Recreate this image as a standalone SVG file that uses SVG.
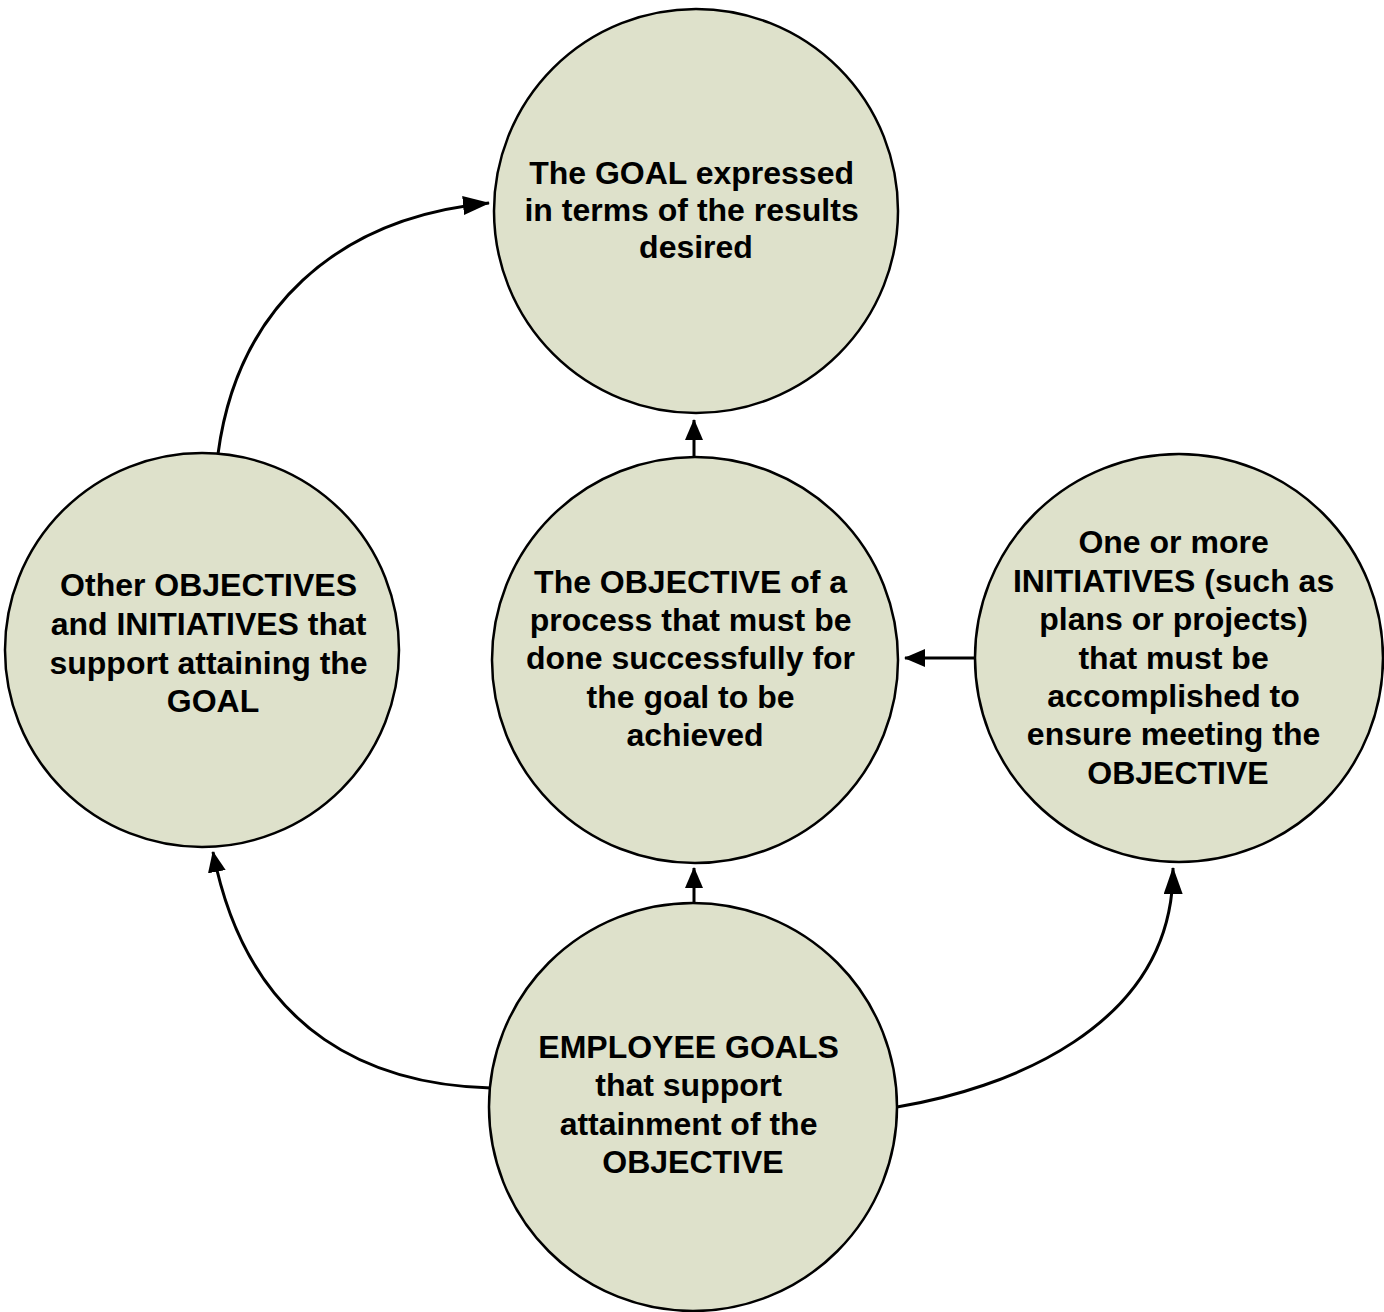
<svg xmlns="http://www.w3.org/2000/svg" width="1384" height="1312" viewBox="0 0 1384 1312">
  <defs>
    <style>
      .node { fill: #dee1cb; stroke: #000; stroke-width: 2.5; }
      .label { font-family: "Liberation Sans", Arial, sans-serif; font-weight: bold; font-size: 32px; fill: #000; text-anchor: middle; }
      .link { fill: none; stroke: #000; stroke-width: 3; }
    </style>
    <marker id="arrow" markerUnits="userSpaceOnUse" markerWidth="22" markerHeight="18" refX="20" refY="9" orient="auto">
      <path d="M0,0 L21,9 L0,18 z" fill="#000"/>
    </marker>
    <marker id="arrow-long" markerUnits="userSpaceOnUse" markerWidth="28" markerHeight="20" refX="26" refY="9.5" orient="auto">
      <path d="M0,0 L27,9.5 L0,19 z" fill="#000"/>
    </marker>
  </defs>

  <rect width="1384" height="1312" fill="#fff"/>

  <!-- connectors -->
  <g id="connectors">
    <line class="link" x1="694" y1="457" x2="694" y2="420" marker-end="url(#arrow)"/>
    <line class="link" x1="975" y1="658" x2="905" y2="658" marker-end="url(#arrow)"/>
    <line class="link" x1="694" y1="903" x2="694" y2="868" marker-end="url(#arrow)"/>
    <path class="link" d="M218,454 C237,310 335,218 489,203" marker-end="url(#arrow-long)"/>
    <path class="link" d="M491,1088 C380,1085 250,1040 213,852" marker-end="url(#arrow)"/>
    <path class="link" d="M897,1107 C1000,1090 1174,1030 1173,868" marker-end="url(#arrow-long)"/>
  </g>

  <!-- the goal -->
  <g id="goal">
    <circle class="node" cx="696" cy="211" r="202"/>
    <text class="label">
      <tspan x="696" y="184">The GOAL expressed</tspan>
      <tspan x="696" y="221">in terms of the results</tspan>
      <tspan x="696" y="258">desired</tspan>
    </text>
  </g>

  <!-- the objective -->
  <g id="objective">
    <circle class="node" cx="695" cy="660" r="203"/>
    <text class="label">
      <tspan x="695" y="593">The OBJECTIVE of a</tspan>
      <tspan x="695" y="631">process that must be</tspan>
      <tspan x="695" y="669">done successfully for</tspan>
      <tspan x="695" y="708">the goal to be</tspan>
      <tspan x="695" y="746">achieved</tspan>
    </text>
  </g>

  <!-- other objectives and initiatives -->
  <g id="other-objectives">
    <circle class="node" cx="202" cy="650" r="197"/>
    <text class="label">
      <tspan x="213" y="596">Other OBJECTIVES</tspan>
      <tspan x="213" y="635">and INITIATIVES that</tspan>
      <tspan x="213" y="674">support attaining the</tspan>
      <tspan x="213" y="712">GOAL</tspan>
    </text>
  </g>

  <!-- initiatives -->
  <g id="initiatives">
    <circle class="node" cx="1179" cy="658" r="204"/>
    <text class="label">
      <tspan x="1178" y="553">One or more</tspan>
      <tspan x="1178" y="592">INITIATIVES (such as</tspan>
      <tspan x="1178" y="630">plans or projects)</tspan>
      <tspan x="1178" y="669">that must be</tspan>
      <tspan x="1178" y="707">accomplished to</tspan>
      <tspan x="1178" y="745">ensure meeting the</tspan>
      <tspan x="1178" y="784">OBJECTIVE</tspan>
    </text>
  </g>

  <!-- employee goals -->
  <g id="employee-goals">
    <circle class="node" cx="693" cy="1107" r="204"/>
    <text class="label">
      <tspan x="693" y="1058">EMPLOYEE GOALS</tspan>
      <tspan x="693" y="1096">that support</tspan>
      <tspan x="693" y="1135">attainment of the</tspan>
      <tspan x="693" y="1173">OBJECTIVE</tspan>
    </text>
  </g>
</svg>
